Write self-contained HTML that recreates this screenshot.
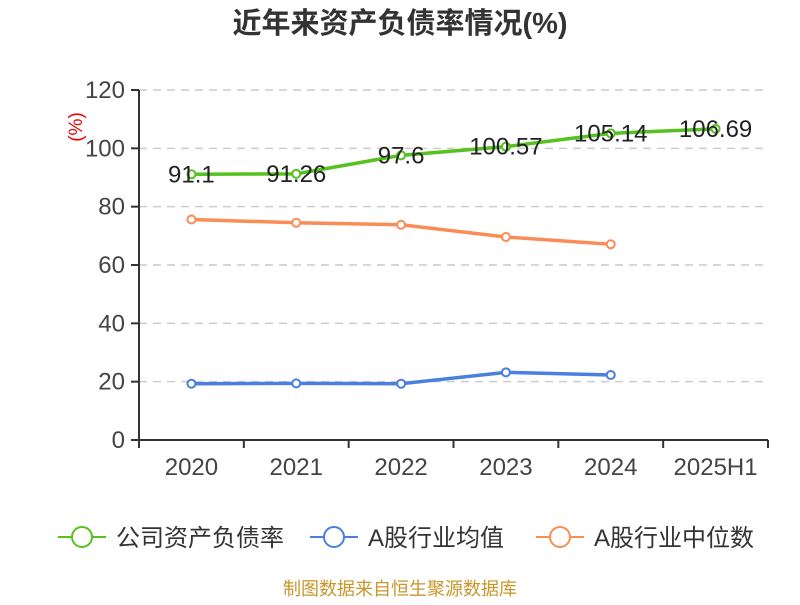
<!DOCTYPE html>
<html><head><meta charset="utf-8"><style>
body{margin:0;background:#fff;}
svg text{font-family:"Liberation Sans","Noto Sans CJK SC",sans-serif;}
</style></head><body>
<svg id="c" width="800" height="600" xmlns="http://www.w3.org/2000/svg">
<text x="400" y="33" text-anchor="middle" font-size="29" font-weight="bold" fill="#333">近年来资产负债率情况(%)</text>
<text transform="translate(82,127) rotate(-90)" text-anchor="middle" font-size="19" fill="#e00">(%)</text>
<g id="grid"></g><g id="axes"></g><g id="series"></g>
<text x="400" y="595" text-anchor="middle" font-size="18" fill="#c8962a">制图数据来自恒生聚源数据库</text>
</svg>
<script>
const categories=["2020","2021","2022","2023","2024","2025H1"];
const companyRatio=[91.1,91.26,97.6,100.57,105.14,106.69];
const industryAvg=[19.3,19.4,19.3,23.2,22.3];
const industryMedian=[75.6,74.5,73.8,69.6,67.1];
const yTicks=[0,20,40,60,80,100,120];
const NS="http://www.w3.org/2000/svg";
const L=139,R=768,T=90,B=440,yMax=120;
const bw=(R-L)/categories.length;
const xs=i=>L+bw*(i+0.5);
const ys=v=>B-(v/yMax)*(B-T);
function mk(tag,attrs,parent,txt){const e=document.createElementNS(NS,tag);for(const k in attrs)e.setAttribute(k,attrs[k]);if(txt!=null)e.textContent=txt;parent.appendChild(e);return e;}
const grid=document.getElementById('grid'),axes=document.getElementById('axes'),ser=document.getElementById('series');
yTicks.forEach(t=>{const y=ys(t);
 if(t>0){const g=mk('line',{x1:L,x2:R,y1:y,y2:y,stroke:'#ccc','stroke-dasharray':'8,6','stroke-width':1.5},grid);
 
 }
 const tk=mk('line',{x1:L-8,x2:L,y1:y,y2:y,stroke:'#333','stroke-width':2},axes);
 
 
 const lb=mk('text',{x:L-14,y:y+8,'text-anchor':'end','font-size':24,fill:'#444'},axes,t);
 
 
});
const ya=mk('line',{x1:L,x2:L,y1:T,y2:B,stroke:'#333','stroke-width':2},axes);


const xa=mk('line',{x1:L,x2:R,y1:B,y2:B,stroke:'#333','stroke-width':2},axes);


for(let i=0;i<=categories.length;i++){const x=L+bw*i;const t=mk('line',{x1:x,x2:x,y1:B,y2:B+8,stroke:'#333','stroke-width':2},axes);
 
 }
categories.forEach((c,i)=>{const t=mk('text',{x:xs(i),y:B+35,'text-anchor':'middle','font-size':24,fill:'#444'},axes,c);
 
 });
function series(vals,color,name,labels){
 const g=mk('g',{},ser);
 
 
 const pl=mk('polyline',{points:vals.map((v,i)=>xs(i)+','+ys(v)).join(' '),fill:'none',stroke:color,'stroke-width':3.5},g);
 
 
 vals.forEach((v,i)=>{const c=mk('circle',{cx:xs(i),cy:ys(v),r:4,fill:'#fff',stroke:color,'stroke-width':2},g);
  
  
  if(labels){const t=mk('text',{x:xs(i),y:ys(v)+8,'text-anchor':'middle','font-size':24,fill:'#222'},g,v);
   
   }
 });
}
series(industryMedian,'#fa8c55','industry-median-series',false);
series(industryAvg,'#4a7fe0','industry-average-series',false);
series(companyRatio,'#55c21f','company-ratio-series',true);
const leg=[["公司资产负债率",'#55c21f',58],["A股行业均值",'#4a7fe0',310],["A股行业中位数",'#fa8c55',536]];
leg.forEach(([n,c,x])=>{const g=mk('g',{},document.getElementById('c'));
 
 
 mk('line',{x1:x,x2:x+48,y1:537,y2:537,stroke:c,'stroke-width':2},g);
 mk('circle',{cx:x+24,cy:537,r:10,fill:'#fff',stroke:c,'stroke-width':2},g);
 mk('text',{x:x+58,y:546,'font-size':24,fill:'#333'},g,n);
});
</script>
</body></html>
